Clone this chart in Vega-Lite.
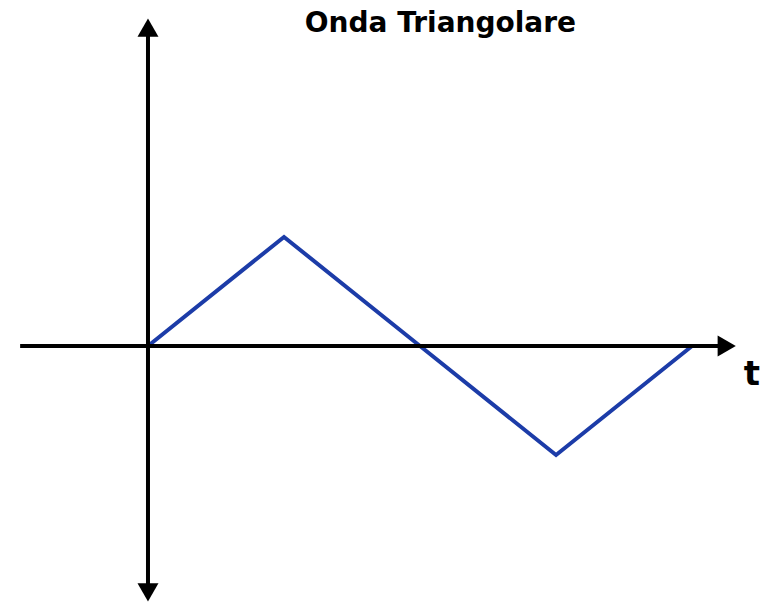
{
  "$schema": "https://vega.github.io/schema/vega-lite/v6.json",
  "width": 767,
  "height": 603,
  "autosize": {"type": "fit", "contains": "padding"},
  "padding": 0,
  "background": "white",
  "config": {"view": {"stroke": null}},
  "datasets": {
    "wave": [
      {"t": 0, "v": 0},
      {"t": 1, "v": 1},
      {"t": 2, "v": 0},
      {"t": 3, "v": -1},
      {"t": 4, "v": 0}
    ],
    "axes": [
      {"name": "t", "x": -0.94, "x2": 4.22, "y": 0, "y2": 0},
      {"name": "v", "x": 0, "x2": 0, "y": -2.2, "y2": 2.87}
    ],
    "heads": [
      {"dir": "up", "x": 0, "y": 2.92},
      {"dir": "down", "x": 0, "y": -2.26},
      {"dir": "right", "x": 4.255, "y": 0}
    ],
    "labels": [
      {"text": "Onda Triangolare", "x": 2.15, "y": 2.88, "size": 28},
      {"text": "t", "x": 4.44, "y": -0.355, "size": 34}
    ]
  },
  "layer": [
    {
      "data": {"name": "wave"},
      "mark": {"type": "line", "color": "#1c3ca8", "strokeWidth": 4, "strokeJoin": "miter", "strokeCap": "butt"},
      "encoding": {
        "x": {"field": "t", "type": "quantitative", "scale": {"domain": [-1.088, 4.551], "nice": false, "zero": false}, "axis": null},
        "y": {"field": "v", "type": "quantitative", "scale": {"domain": [-2.358, 3.174], "nice": false, "zero": false}, "axis": null}
      }
    },
    {
      "data": {"name": "axes"},
      "mark": {"type": "rule", "color": "black", "strokeWidth": 4},
      "encoding": {
        "x": {"field": "x", "type": "quantitative"},
        "x2": {"field": "x2"},
        "y": {"field": "y", "type": "quantitative"},
        "y2": {"field": "y2"}
      }
    },
    {
      "data": {"name": "heads"},
      "mark": {"type": "point", "filled": true, "color": "black", "opacity": 1, "size": 440, "strokeWidth": 0},
      "encoding": {
        "x": {"field": "x", "type": "quantitative"},
        "y": {"field": "y", "type": "quantitative"},
        "shape": {
          "field": "dir",
          "type": "nominal",
          "scale": {"domain": ["up", "down", "right"], "range": ["triangle-up", "triangle-down", "triangle-right"]},
          "legend": null
        }
      }
    },
    {
      "data": {"name": "labels"},
      "mark": {"type": "text", "font": "DejaVu Sans", "fontWeight": "bold", "color": "black", "align": "center", "baseline": "alphabetic"},
      "encoding": {
        "x": {"field": "x", "type": "quantitative"},
        "y": {"field": "y", "type": "quantitative"},
        "text": {"field": "text"},
        "size": {"field": "size", "type": "quantitative", "scale": null}
      }
    }
  ]
}
